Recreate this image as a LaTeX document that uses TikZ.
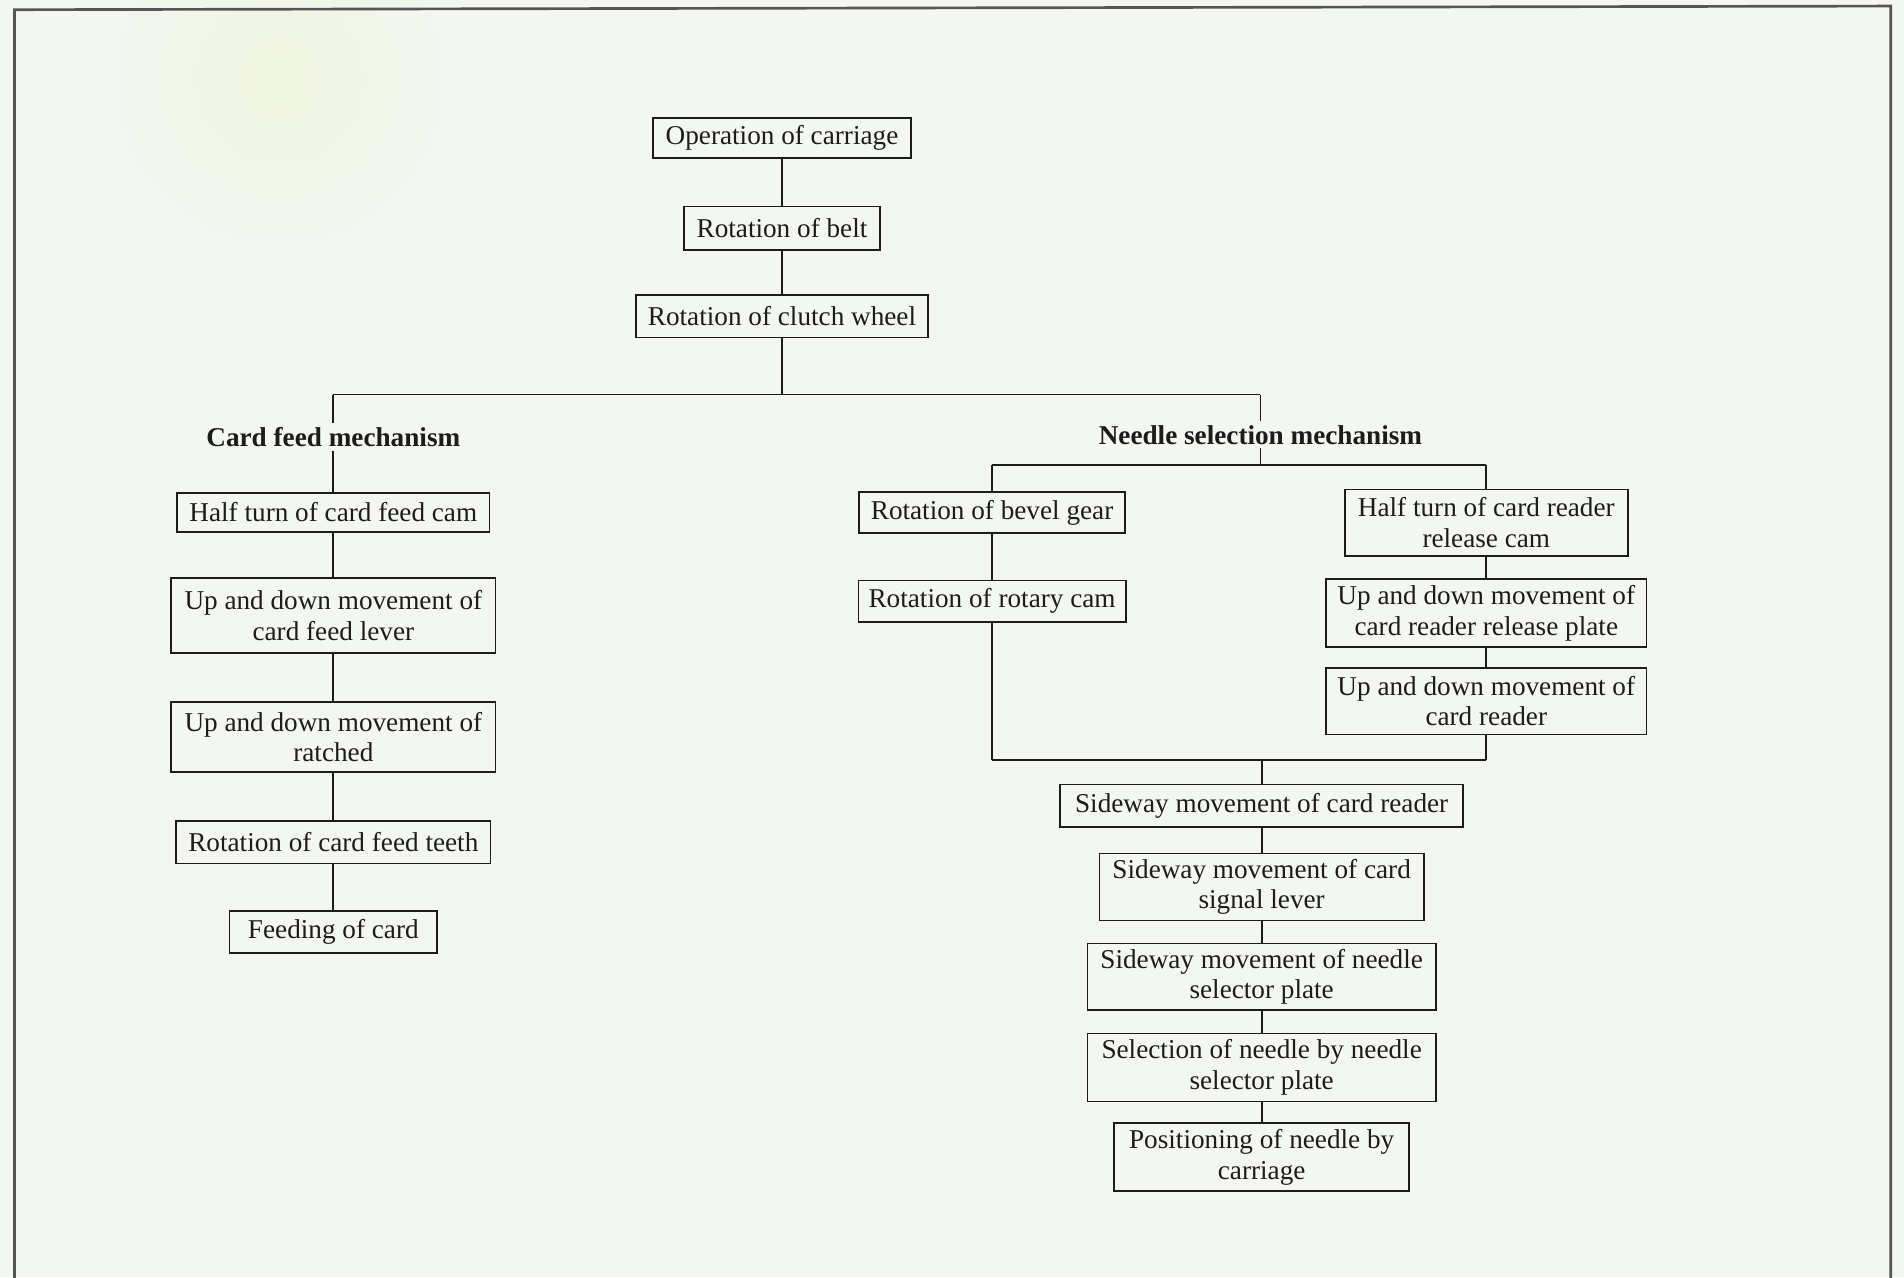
\documentclass[tikz,border=0pt]{standalone}
\usepackage{fontspec}
\setmainfont{Liberation Serif}
\usetikzlibrary{calc}
\definecolor{bgc}{RGB}{243,246,241}
\definecolor{glow}{RGB}{240,245,222}
\definecolor{ink}{RGB}{28,28,28}
\definecolor{framec}{RGB}{85,85,85}
\begin{document}
\begin{tikzpicture}[x=0.5pt,y=-0.5pt,
  stepbox/.style={draw=ink, line width=0.7pt, fill=bgc, align=center, inner sep=0pt,
    font=\fontsize{11.2}{12.6}\selectfont, text=ink},
  head/.style={font=\fontsize{11.2}{12.6}\selectfont\bfseries, text=ink, inner sep=1.5pt},
  link/.style={draw=ink, line width=0.7pt},
  framel/.style={draw=framec, line width=1.1pt}]
\useasboundingbox (0,0) rectangle (1568,1052);
\fill[bgc] (0,0) rectangle (1568,1052);
\shade[inner color=glow, outer color=bgc] (230,65) circle[radius=140];
\draw[framel] (12,1060) -- (12,8) -- (1557,5) -- (1557,1060);

% top chain
\node[stepbox, minimum width=106pt, minimum height=16.5pt] (oc) at (644,113.5) {Operation of carriage};
\node[stepbox, minimum width=80.5pt, minimum height=18pt] (rb) at (644,188) {Rotation of belt};
\node[stepbox, minimum width=120pt, minimum height=17.5pt] (cw) at (644,260.5) {Rotation of clutch wheel};

% headings
\node[head] (cfm) at (274.5,360) {Card feed mechanism};
\node[head] (nsm) at (1038,358) {Needle selection mechanism};

% left column
\node[stepbox, minimum width=128.5pt, minimum height=16pt] (l1) at (274.5,422) {Half turn of card feed cam};
\node[stepbox, minimum width=133.5pt, minimum height=31pt] (l2) at (274.5,507) {Up and down movement of\\card feed lever};
\node[stepbox, minimum width=133.5pt, minimum height=29pt] (l3) at (274.5,607) {Up and down movement of\\ratched};
\node[stepbox, minimum width=129.5pt, minimum height=17.5pt] (l4) at (274.5,693.5) {Rotation of card feed teeth};
\node[stepbox, minimum width=85.5pt, minimum height=17.5pt] (l5) at (274.5,767.5) {Feeding of card};

% middle column
\node[stepbox, minimum width=109.5pt, minimum height=17pt] (m1) at (817,422) {Rotation of bevel gear};
\node[stepbox, minimum width=110pt, minimum height=17pt] (m2) at (817,495) {Rotation of rotary cam};

% right column
\node[stepbox, minimum width=116.5pt, minimum height=27.5pt] (r1) at (1224,430.5) {Half turn of card reader\\release cam};
\node[stepbox, minimum width=132pt, minimum height=28pt] (r2) at (1224,505) {Up and down movement of\\card reader release plate};
\node[stepbox, minimum width=132pt, minimum height=27.5pt] (r3) at (1224,577.5) {Up and down movement of\\card reader};

% bottom chain
\node[stepbox, minimum width=166pt, minimum height=17.5pt] (b1) at (1039,663.5) {Sideway movement of card reader};
\node[stepbox, minimum width=133.5pt, minimum height=27.5pt] (b2) at (1039,730.5) {Sideway movement of card\\signal lever};
\node[stepbox, minimum width=143.5pt, minimum height=27.5pt] (b3) at (1039,804.5) {Sideway movement of needle\\selector plate};
\node[stepbox, minimum width=143.5pt, minimum height=28pt] (b4) at (1039,879) {Selection of needle by needle\\selector plate};
\node[stepbox, minimum width=121.5pt, minimum height=28pt] (b5) at (1039,953) {Positioning of needle by\\carriage};

% junction points
\coordinate (jl) at (274.5,325);
\coordinate (jr) at (1038,325);
\coordinate (nl) at (817,383);
\coordinate (nr) at (1224,383);
\coordinate (bl) at (817,626);
\coordinate (br) at (1224,626);

% connectors
\draw[link] (oc) -- (rb);
\draw[link] (rb) -- (cw);
\draw[link] (cw.south) -- (cw.south |- jl);
\draw[link] (jl) -- (jr);
\draw[link] (jl) -- (cfm.north);
\draw[link] (jr) -- (nsm.north);
\draw[link] (cfm.south) -- (l1.north);
\draw[link] (l1) -- (l2);
\draw[link] (l2) -- (l3);
\draw[link] (l3) -- (l4);
\draw[link] (l4) -- (l5);
\draw[link] (nsm.south) -- (nsm.south |- nl);
\draw[link] (nl) -- (nr);
\draw[link] (nl) -- (m1.north);
\draw[link] (nr) -- (r1.north);
\draw[link] (m1) -- (m2);
\draw[link] (r1) -- (r2);
\draw[link] (r2) -- (r3);
\draw[link] (m2.south) -- (bl);
\draw[link] (r3.south) -- (br);
\draw[link] (bl) -- (br);
\draw[link] (b1.north |- bl) -- (b1.north);
\draw[link] (b1) -- (b2);
\draw[link] (b2) -- (b3);
\draw[link] (b3) -- (b4);
\draw[link] (b4) -- (b5);
\end{tikzpicture}
\end{document}
